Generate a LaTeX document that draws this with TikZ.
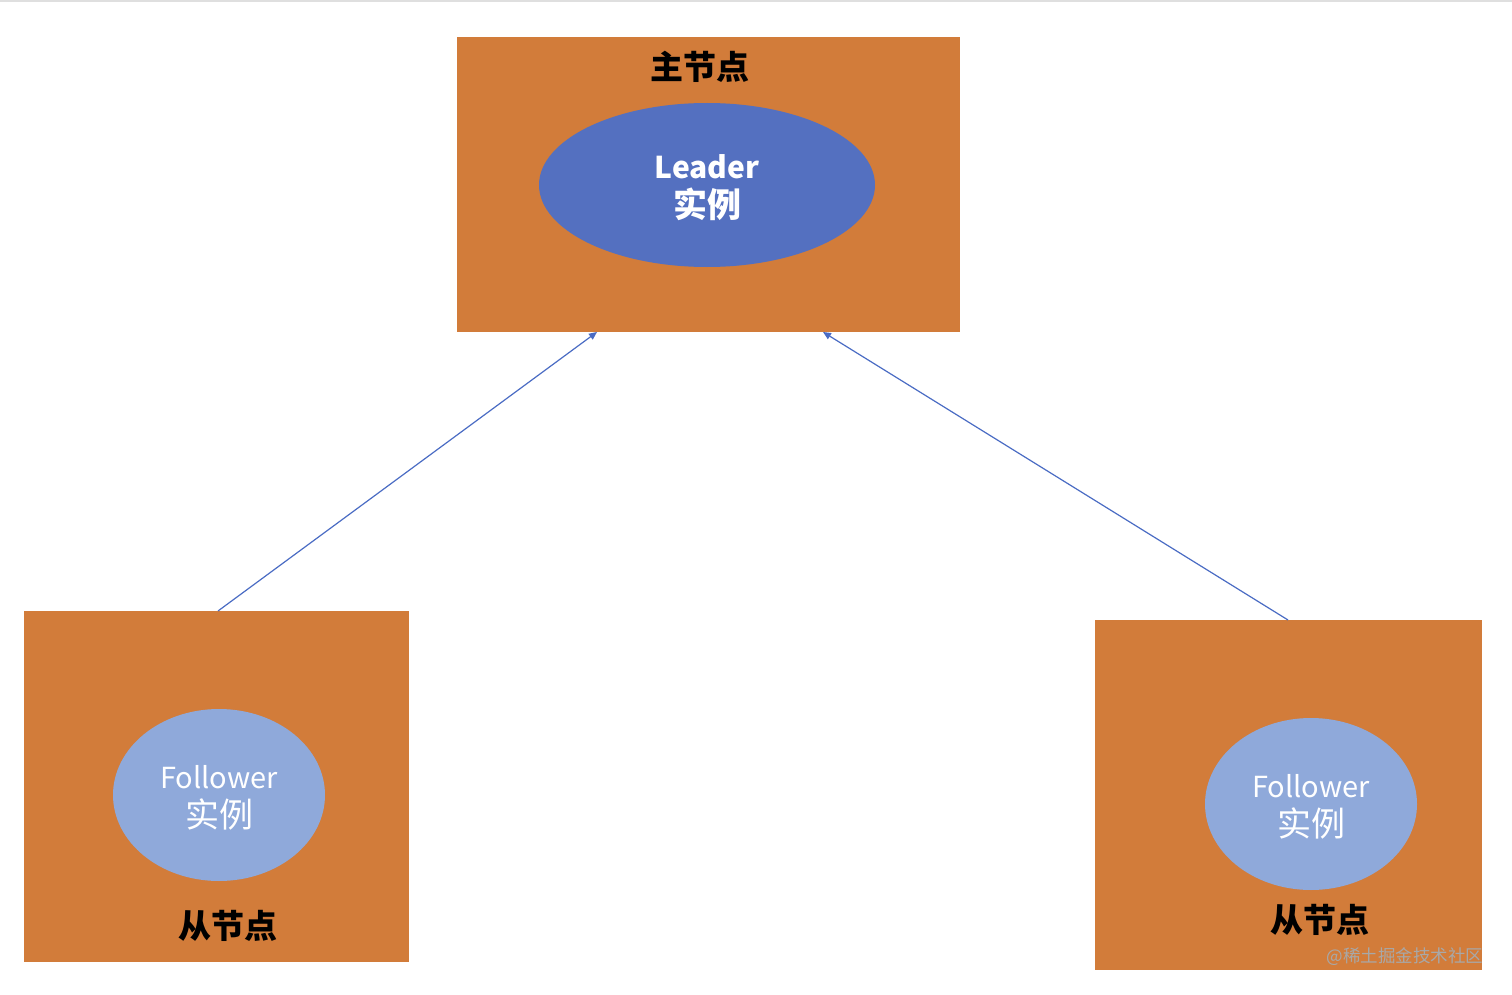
\documentclass[tikz,border=0pt]{standalone}
\usepackage{fontspec}
\setmainfont{Noto Sans CJK SC}
\usetikzlibrary{arrows.meta}
\definecolor{boxorange}{HTML}{D27C3A}
\definecolor{leaderblue}{HTML}{5470C0}
\definecolor{followerblue}{HTML}{8FA9DA}
\definecolor{arrowblue}{HTML}{4A6CC4}
\definecolor{wmgray}{HTML}{A8A8A8}
\newcommand{\bigcjk}[1]{{\fontsize{34}{40}\selectfont #1}}
\tikzset{
  hostbox/.style={fill=boxorange, draw=none},
  leadertext/.style={align=center, text=white, font=\fontsize{30}{40}\selectfont\bfseries},
  followertext/.style={align=center, text=white, font=\fontsize{29}{39}\selectfont},
  hostlabel/.style={text=black, font=\fontsize{33}{38}\selectfont\bfseries},
  link/.style={draw=arrowblue, line width=1.2pt, -{Triangle[length=8pt,width=7pt]}},
}
\begin{document}
\begin{tikzpicture}[x=1pt,y=-1pt]
\useasboundingbox (0,0) rectangle (1512,995);
\fill[white] (0,0) rectangle (1512,995);
\fill[gray!25] (0,0) rectangle (1512,2);
% boxes
\path[hostbox] (457,37) rectangle (960,332);
\path[hostbox] (24,611) rectangle (409,962);
\path[hostbox] (1095,620) rectangle (1482,970);
% ellipses
\fill[leaderblue] (707,185) ellipse [x radius=168, y radius=82];
\node[leadertext] (leadtxt) at (707,188) {Leader\\[-1pt]\bigcjk{实例}};
\fill[followerblue] (219,795) ellipse [x radius=106, y radius=86];
\node[followertext] (f1) at (219,798) {Follower\\[0pt]\bigcjk{实例}};
\fill[followerblue] (1311,804) ellipse [x radius=106, y radius=86];
\node[followertext] (f2) at (1311,807) {Follower\\[0pt]\bigcjk{实例}};
% labels
\node[hostlabel] (mainlbl) at (700,67) {主节点};
\node[hostlabel] (s1lbl) at (228,926) {从节点};
\node[hostlabel] (s2lbl) at (1320,920) {从节点};
% connectors
\coordinate (s1top) at (218,611);
\coordinate (s2top) at (1288,620);
\coordinate (m1) at (597,332);
\coordinate (m2) at (823,332);
\draw[link] (s1top) -- (m1);
\draw[link] (s2top) -- (m2);
% watermark
\node[text=wmgray, font=\fontsize{17.5}{20}\selectfont, anchor=east] (wm) at (1487,957) {@稀土掘金技术社区};
\end{tikzpicture}
\end{document}
